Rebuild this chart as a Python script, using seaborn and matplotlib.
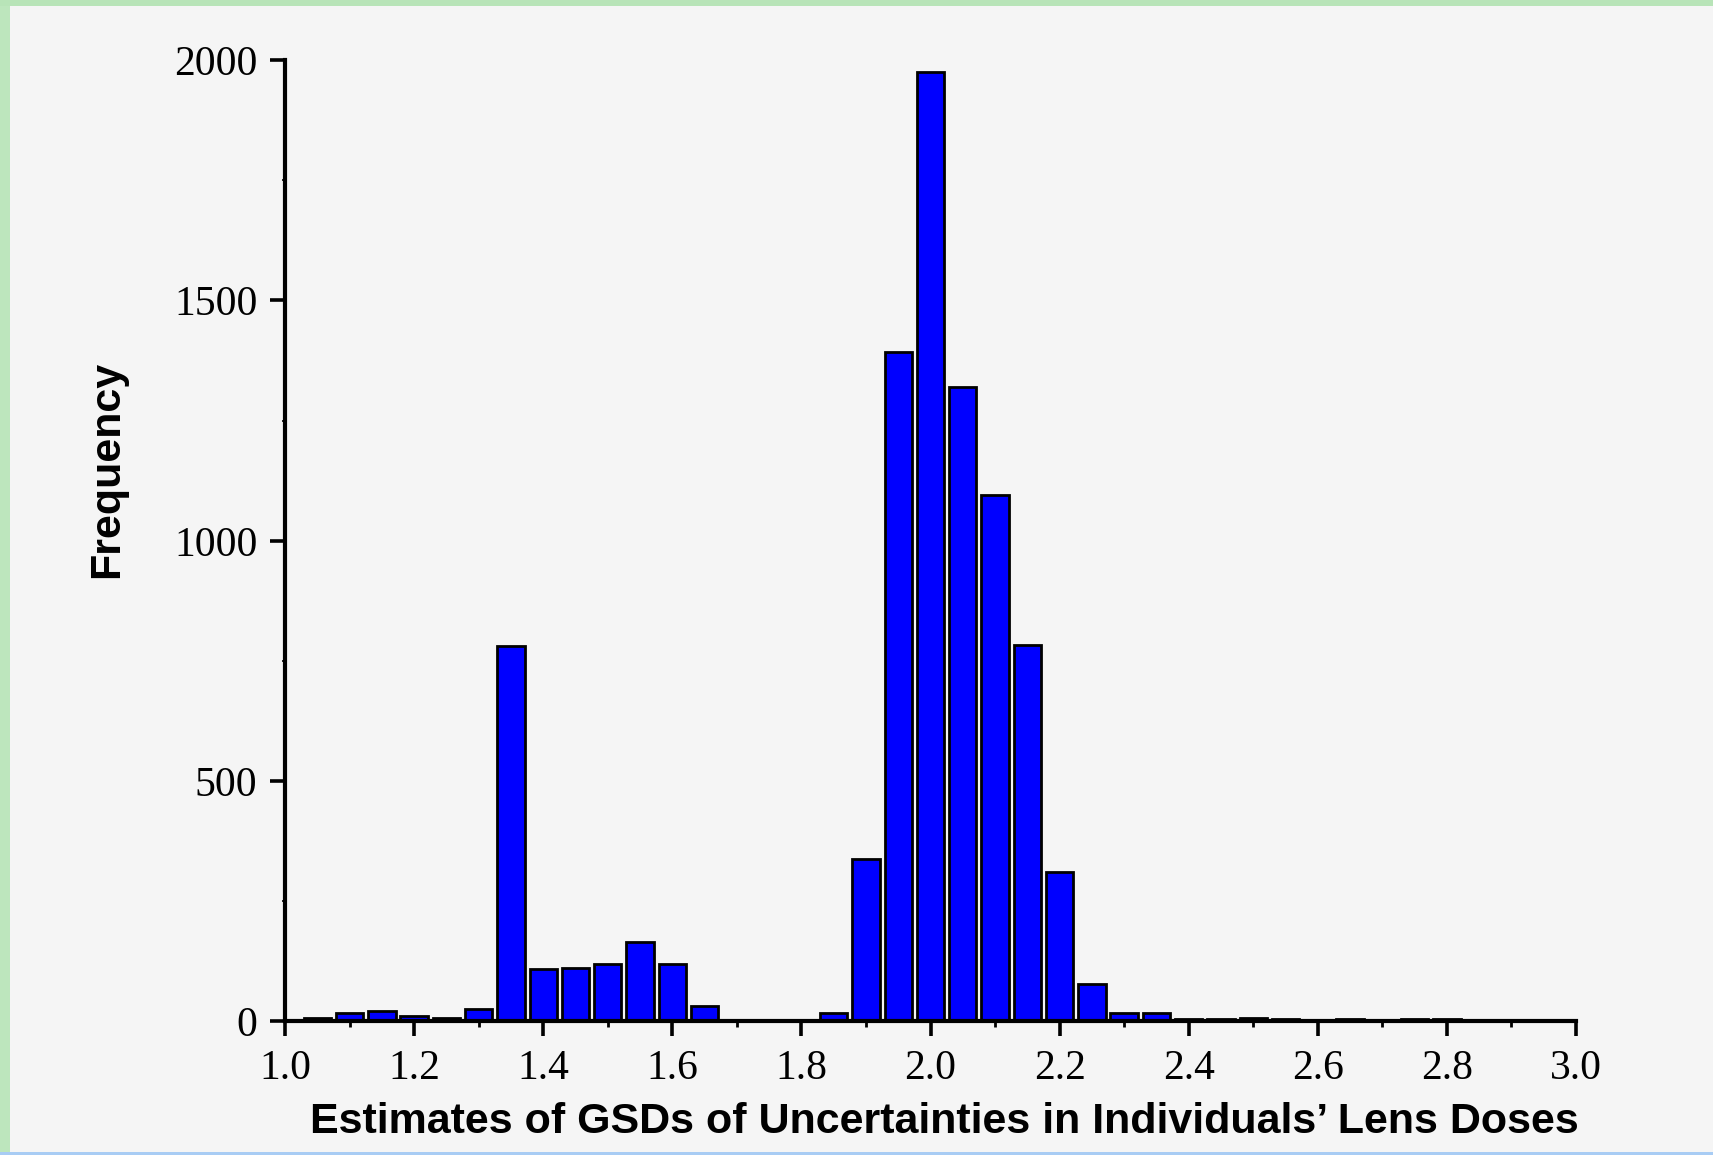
import matplotlib
matplotlib.use("Agg")
import matplotlib.pyplot as plt
import seaborn as sns
import pandas as pd
from matplotlib.ticker import MultipleLocator, FormatStrFormatter
from matplotlib.patches import Rectangle

# Bin centres of the histogram (GSD estimates)
gsd_centers = [1.05, 1.10, 1.15, 1.20, 1.25, 1.30, 1.35, 1.40, 1.45, 1.50,
               1.55, 1.60, 1.65, 1.70, 1.75, 1.80, 1.85, 1.90, 1.95, 2.00,
               2.05, 2.10, 2.15, 2.20, 2.25, 2.30, 2.35, 2.40, 2.45, 2.50,
               2.55, 2.60, 2.65, 2.70, 2.75, 2.80, 2.85, 2.90, 2.95]
# Frequencies
frequency = [8, 17, 21, 12, 8, 26, 782, 110, 112, 120,
             166, 119, 33, 3, 1, 1, 18, 339, 1392, 1975,
             1320, 1095, 784, 311, 78, 17, 17, 5, 5, 8,
             5, 3, 5, 1, 5, 5, 3, 1, 1]

x_ticks = [1.0, 1.2, 1.4, 1.6, 1.8, 2.0, 2.2, 2.4, 2.6, 2.8, 3.0]
y_ticks = [0, 500, 1000, 1500, 2000]

df = pd.DataFrame({"gsd": gsd_centers, "freq": frequency})

sns.set_theme(style="white")
bg = "#f5f5f5"
fig = plt.figure(figsize=(17.13, 11.55), dpi=100, facecolor=bg)
ax = fig.add_axes([0.1664, 0.1156, 0.9200 - 0.1664, 0.948 - 0.1156])
ax.set_facecolor(bg)

sns.barplot(data=df, x="gsd", y="freq", native_scale=True, width=0.85,
            color="#0000ff", saturation=1, edgecolor="black", linewidth=2.0,
            ax=ax, errorbar=None)

ax.set_xlim(1.0, 3.0)
ax.set_ylim(0, 2000)
ax.set_xticks(x_ticks)
ax.set_yticks(y_ticks)
ax.xaxis.set_major_formatter(FormatStrFormatter("%.1f"))
ax.xaxis.set_minor_locator(MultipleLocator(0.1))
ax.yaxis.set_minor_locator(MultipleLocator(250))

for s in ["top", "right"]:
    ax.spines[s].set_visible(False)
for s in ["left", "bottom"]:
    ax.spines[s].set_linewidth(3.0)
    ax.spines[s].set_color("black")

serif = ["Liberation Serif", "DejaVu Serif"]
ax.tick_params(axis="both", which="major", direction="out", length=11, width=2.6,
               color="black", labelsize=30, pad=9)
ax.tick_params(axis="x", which="minor", direction="out", length=4, width=2.0,
               color="black")
ax.tick_params(axis="y", which="minor", direction="out", length=2, width=1.2,
               color="black")
ax.tick_params(axis="both", which="both", bottom=True, left=True)
for lab in ax.get_xticklabels() + ax.get_yticklabels():
    lab.set_family(serif)
    lab.set_color("black")

sans = ["Liberation Sans", "DejaVu Sans"]
ax.set_xlabel("Estimates of GSDs of Uncertainties in Individuals\u2019 Lens Doses",
              fontsize=31, fontweight="bold", family=sans, color="black")
ax.set_ylabel("Frequency", fontsize=31, fontweight="bold", family=sans, color="black")
ax.xaxis.set_label_coords(0.511, -0.084)
ax.yaxis.set_label_coords(-0.122, 0.574)

# Decorative page border (green left/top, blue bottom line)
fig.patches.append(Rectangle((0, 0), 10 / 1713, 1, transform=fig.transFigure,
                             facecolor="#bde6bd", edgecolor="none", zorder=-1))
fig.patches.append(Rectangle((0, 1 - 6 / 1155), 1, 6 / 1155, transform=fig.transFigure,
                             facecolor="#b8e4b8", edgecolor="none", zorder=-1))
fig.patches.append(Rectangle((0, 0), 1, 3 / 1155, transform=fig.transFigure,
                             facecolor="#a8ccf4", edgecolor="none", zorder=-1))

fig.savefig("out.png", dpi=100, facecolor=bg)
